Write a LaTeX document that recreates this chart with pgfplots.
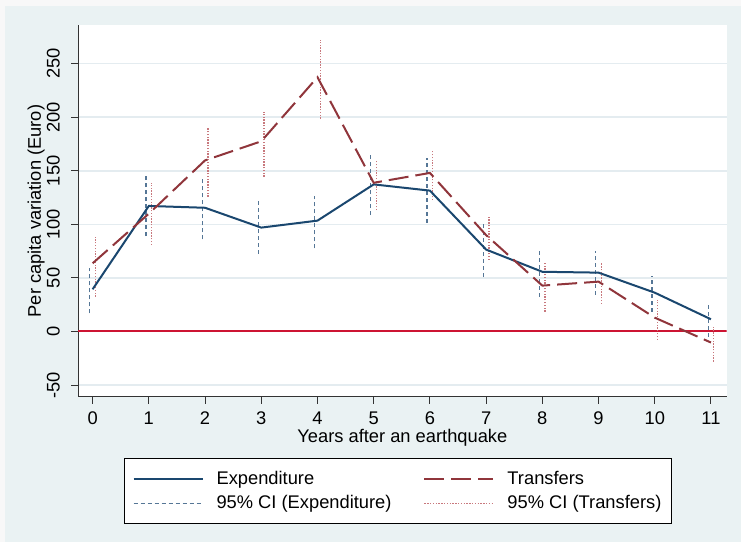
\documentclass[border=0pt]{standalone}
\usepackage{fontspec}
\setmainfont{Liberation Sans}
\usepackage{pgfplots}
\pgfplotsset{compat=1.18}
\definecolor{stnavy}{RGB}{26,71,111}
\definecolor{stmaroon}{RGB}{144,53,59}
\definecolor{panelc}{RGB}{234,242,243}
\definecolor{outerc}{RGB}{248,248,248}
\definecolor{gridc}{RGB}{228,236,240}
\definecolor{ciblue}{RGB}{85,118,150}
\definecolor{cired}{RGB}{200,120,125}
\definecolor{zerored}{RGB}{205,20,50}
\newcommand{\ff}{\fontsize{18.3bp}{22bp}\selectfont}
\begin{document}
\ff
\begin{tikzpicture}[x=1bp,y=1bp]
\fill[outerc] (0,0) rectangle (741,542);
\fill[panelc] (5,0) rectangle (741,536);
\begin{axis}[
  at={(78bp,145bp)}, anchor=south west,
  scale only axis, width=648.7bp, height=372bp,
  xmin=-0.26, xmax=11.28, ymin=-61, ymax=286,
  axis lines*=left,
  axis line style={black!80, line width=1bp, -},
  axis background/.style={fill=white},
  xtick={0,...,11}, ytick={-50,0,50,100,150,200,250},
  tick align=outside, major tick length=7bp,
  tick style={black!80, line width=1bp},
  ymajorgrids, grid style={gridc, line width=1.5bp},
  /pgf/number format/assume math mode=true,
  tick label style={font=\ff},
  yticklabel style={rotate=90, anchor=south},
  yticklabel shift=5bp, xticklabel shift=1.5bp,
  xlabel={Years after an earthquake},
  ylabel={Per capita variation (Euro)},
  every axis x label/.style={at={(axis description cs:0.5,0)}, anchor=center, yshift=-41bp, font=\ff},
  every axis y label/.style={at={(axis description cs:-0.0647,0.5)}, rotate=90, anchor=center, font=\ff},
  unbounded coords=jump,
  legend columns=2,
  legend cell align=left,
  legend image code/.code={\draw[#1] (0bp,0bp) -- (69bp,0bp);},
  legend style={at={(axis description cs:0.071,-0.164)}, anchor=north west,
    draw=black, line width=1bp, fill=white,
    font=\ff,
    inner xsep=8bp, inner ysep=10.5bp,
    /tikz/row sep=4.5bp,
    /tikz/every odd column/.append style={column sep=11bp},
    /tikz/every even column/.append style={column sep=30bp}},
]
\addplot[draw=zerored, line width=1.8bp, forget plot] coordinates {(-0.26,0.3) (11.28,0.3)};
% 95% CI Expenditure
\addplot[ciblue, line width=1.2bp, dash pattern=on 4bp off 3bp, forget plot] coordinates {
(-0.05,17) (-0.05,59) (-0.05,nan)
(0.95,89) (0.95,145.3) (0.95,nan)
(1.95,86) (1.95,142.2) (1.95,nan)
(2.95,72.4) (2.95,121.5) (2.95,nan)
(3.95,77.7) (3.95,126.4) (3.95,nan)
(4.95,108.7) (4.95,165.2) (4.95,nan)
(5.95,101.5) (5.95,161.5) (5.95,nan)
(6.95,51.2) (6.95,100.3) (6.95,nan)
(7.95,32.6) (7.95,77.7) (7.95,nan)
(8.95,34.2) (8.95,75.4) (8.95,nan)
(9.95,18.6) (9.95,51.9) (9.95,nan)
(10.95,-4.7) (10.95,27)
};
% 95% CI Transfers
\addplot[cired, line width=1.3bp, dash pattern=on 1.3bp off 1.5bp, forget plot] coordinates {
(0.05,32.6) (0.05,90) (0.05,nan)
(1.05,80.8) (1.05,138.8) (1.05,nan)
(2.05,125.8) (2.05,190.4) (2.05,nan)
(3.05,144.4) (3.05,205) (3.05,nan)
(4.05,198.5) (4.05,271.7) (4.05,nan)
(5.05,113.4) (5.05,159) (5.05,nan)
(6.05,122.7) (6.05,168.3) (6.05,nan)
(7.05,66.8) (7.05,107.8) (7.05,nan)
(8.05,18.6) (8.05,63.7) (8.05,nan)
(9.05,25.8) (9.05,63.7) (9.05,nan)
(10.05,-7.7) (10.05,29.5) (10.05,nan)
(11.05,-27.9) (11.05,5.3)
};
\addplot[stnavy, line width=2bp] coordinates {
(0,39.5) (1,117.2) (2,115.5) (3,97) (4,103.5) (5,137.3) (6,131.5) (7,76.5) (8,55.8) (9,55) (10,36.3) (11,11.5)
};
\addlegendentry{Expenditure}
\addplot[stmaroon, line width=2bp, dash pattern=on 20bp off 7bp] coordinates {
(0,63.7) (1,110) (2,159.7) (3,177.5) (4,237.3) (5,138.8) (6,148) (7,90) (8,42.9) (9,46.6) (10,13) (11,-10.2)
};
\addlegendentry{Transfers}
\addlegendimage{ciblue, line width=1.2bp, dash pattern=on 4bp off 3bp}
\addlegendentry{95\% CI (Expenditure)}
\addlegendimage{cired, line width=1.3bp, dash pattern=on 1.3bp off 1.5bp}
\addlegendentry{95\% CI (Transfers)}
\end{axis}
\end{tikzpicture}
\end{document}
